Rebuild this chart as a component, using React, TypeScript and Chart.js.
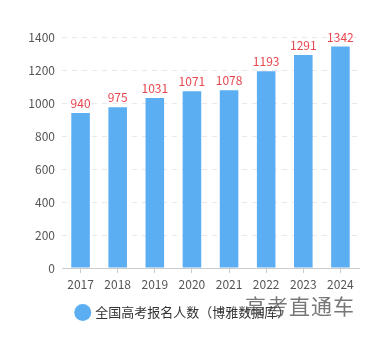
import React, { useEffect, useRef } from "react";
import { Chart, registerables } from "chart.js";

Chart.register(...registerables);

const categories = ["2017", "2018", "2019", "2020", "2021", "2022", "2023", "2024"];
const values = [940, 975, 1031, 1071, 1078, 1193, 1291, 1342];
const yTicks = [0, 200, 400, 600, 800, 1000, 1200, 1400];
const seriesName = "全国高考报名人数（博雅数据库）";
const watermark = "高考直通车";

const FONT = "'Noto Sans CJK SC', 'Noto Sans', sans-serif";

const valueLabels = {
  id: "valueLabels",
  afterDatasetsDraw(chart: any) {
    const ctx = chart.ctx;
    const meta = chart.getDatasetMeta(0);
    ctx.save();
    ctx.fillStyle = "#e8464e";
    ctx.font = `12px ${FONT}`;
    ctx.textAlign = "center";
    ctx.textBaseline = "alphabetic";
    meta.data.forEach((bar: any, i: number) => {
      ctx.fillText(String(values[i]), bar.x, bar.y - 5);
    });
    ctx.restore();
  },
};

export default function App() {
  const ref = useRef<HTMLCanvasElement>(null);
  useEffect(() => {
    if (!ref.current) return;
    const chart = new Chart(ref.current, {
      type: "bar",
      data: {
        labels: categories,
        datasets: [
          {
            label: seriesName,
            data: values,
            backgroundColor: "#5caef3",
            borderWidth: 0,
            barPercentage: 0.5,
            categoryPercentage: 1,
          },
        ],
      },
      options: {
        animation: false,
        responsive: false,
        maintainAspectRatio: false,
        layout: { padding: { left: 8, right: 24, top: 37, bottom: 19 } },
        scales: {
          x: {
            afterFit(axis: any) {
              axis.height = 30;
            },
            grid: {
              display: true,
              drawOnChartArea: false,
              offset: false,
              tickLength: 5,
              color: "#cccccc",
            },
            border: { display: true, color: "#cccccc" },
            ticks: { color: "#555555", font: { family: FONT, size: 12 }, padding: 4 },
          },
          y: {
            min: 0,
            max: 1400,
            afterBuildTicks(axis: any) {
              axis.ticks = yTicks.map((v) => ({ value: v }));
            },
            afterFit(axis: any) {
              axis.width = 54;
            },
            grid: { color: "#e9e9e9", drawTicks: false },
            border: { display: false, dash: [5, 5] },
            ticks: {
              color: "#555555",
              font: { family: FONT, size: 12 },
              padding: 7,
              callback: (v: any) => String(v),
            },
          },
        },
        plugins: {
          legend: {
            position: "bottom",
            labels: {
              usePointStyle: true,
              pointStyle: "circle",
              boxWidth: 12,
              boxHeight: 12,
              color: "#333333",
              font: { family: FONT, size: 13 },
              padding: 8,
            },
          },
          tooltip: { enabled: false },
        },
      },
      plugins: [valueLabels],
    });
    return () => chart.destroy();
  }, []);
  return (
    <div style={{ position: "fixed", left: 0, top: 0, width: 383, height: 348, background: "#fff" }}>
      <canvas ref={ref} width={383} height={348} />
      <div
        style={{
          position: "absolute",
          left: 245,
          top: 292,
          fontFamily: FONT,
          fontSize: 21,
          lineHeight: "26px",
          color: "rgba(85,85,85,0.8)",
          letterSpacing: 1,
          whiteSpace: "nowrap",
        }}
      >
        {watermark}
      </div>
    </div>
  );
}
